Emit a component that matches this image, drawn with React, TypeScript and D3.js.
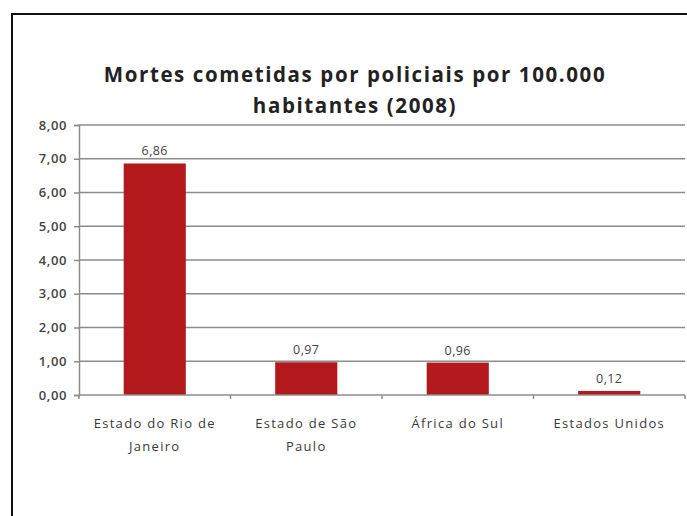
import { useEffect, useRef } from "react";
import * as d3 from "d3";

const categories = [
  ["Estado do Rio de", "Janeiro"],
  ["Estado de São", "Paulo"],
  ["África do Sul"],
  ["Estados Unidos"],
];
const values = [6.86, 0.97, 0.96, 0.12];
const yTicks = [0, 1, 2, 3, 4, 5, 6, 7, 8];
const titleLines = ["Mortes cometidas por policiais por 100.000", "habitantes (2008)"];

const W = 687;
const H = 516;

const fmt = (v: number) => v.toFixed(2).replace(".", ",");

const App = () => {
  const ref = useRef<SVGSVGElement>(null);

  useEffect(() => {
    const svg = d3.select(ref.current);
    svg.selectAll("*").remove();

    const plot = { left: 79, right: 685, top: 125, bottom: 395 };

    const x = d3
      .scaleBand<number>()
      .domain(d3.range(categories.length))
      .range([plot.left, plot.right])
      .paddingInner(0.59)
      .paddingOuter(0.295);
    const bandStep = (plot.right - plot.left) / categories.length;

    const y = d3.scaleLinear().domain([0, 8]).range([plot.bottom, plot.top]);

    // frame
    svg
      .append("path")
      .attr("d", `M12,${H} L12,14 L${W},14`)
      .attr("fill", "none")
      .attr("stroke", "#111")
      .attr("stroke-width", 2);

    // title
    svg
      .append("g")
      .selectAll("text")
      .data(titleLines)
      .enter()
      .append("text")
      .attr("x", 355)
      .attr("y", (_d, i) => 82 + i * 31)
      .attr("text-anchor", "middle")
      .attr("font-family", "'Open Sans', sans-serif")
      .attr("font-weight", "bold")
      .attr("font-size", 20.5)
      .attr("letter-spacing", 1.6)
      .attr("fill", "#222")
      .text((d) => d);

    // gridlines
    svg
      .append("g")
      .selectAll("line")
      .data(yTicks.filter((t) => t > 0))
      .enter()
      .append("line")
      .attr("x1", plot.left)
      .attr("x2", plot.right)
      .attr("y1", (d) => y(d))
      .attr("y2", (d) => y(d))
      .attr("stroke", "#8c8c8c")
      .attr("stroke-width", 1.5);

    // y axis
    const yAxis = svg
      .append("g")
      .attr("transform", `translate(${plot.left},0)`)
      .call(
        d3
          .axisLeft(y)
          .tickValues(yTicks)
          .tickSize(5)
          .tickPadding(7)
          .tickFormat((d) => fmt(d as number))
      );
    yAxis.select(".domain").attr("stroke", "#8c8c8c").attr("stroke-width", 1.5);
    yAxis.selectAll(".tick line").attr("stroke", "#8c8c8c").attr("stroke-width", 1.5);
    yAxis
      .selectAll(".tick text")
      .attr("fill", "#444")
      .attr("font-family", "'Open Sans', sans-serif")
      .attr("font-size", 13)
      .attr("letter-spacing", 0.6)
      .attr("font-weight", 600);

    // bars
    svg
      .append("g")
      .selectAll("rect")
      .data(values)
      .enter()
      .append("rect")
      .attr("x", (_d, i) => x(i)!)
      .attr("width", x.bandwidth())
      .attr("y", (d) => y(d))
      .attr("height", (d) => y(0) - y(d))
      .attr("fill", "#b3181d");

    // value labels
    svg
      .append("g")
      .selectAll("text")
      .data(values)
      .enter()
      .append("text")
      .attr("x", (_d, i) => x(i)! + x.bandwidth() / 2)
      .attr("y", (d) => y(d) - 8)
      .attr("text-anchor", "middle")
      .attr("fill", "#444")
      .attr("font-family", "'Open Sans', sans-serif")
      .attr("font-size", 12.5)
      .attr("letter-spacing", 0.4)
      .text((d) => fmt(d));

    // x axis
    svg
      .append("line")
      .attr("x1", plot.left)
      .attr("x2", plot.right)
      .attr("y1", y(0))
      .attr("y2", y(0))
      .attr("stroke", "#8c8c8c")
      .attr("stroke-width", 1.5);
    svg
      .append("g")
      .selectAll("line")
      .data(d3.range(categories.length + 1))
      .enter()
      .append("line")
      .attr("x1", (i) => plot.left + i * bandStep)
      .attr("x2", (i) => plot.left + i * bandStep)
      .attr("y1", y(0))
      .attr("y2", y(0) + 4)
      .attr("stroke", "#8c8c8c")
      .attr("stroke-width", 1.5);

    // category labels
    const cat = svg
      .append("g")
      .selectAll("text")
      .data(categories)
      .enter()
      .append("text")
      .attr("text-anchor", "middle")
      .attr("fill", "#3a3a3a")
      .attr("font-family", "'Open Sans', sans-serif")
      .attr("font-size", 13)
      .attr("letter-spacing", 1.3);
    cat
      .selectAll("tspan")
      .data((d, i) => d.map((line) => ({ line, i })))
      .enter()
      .append("tspan")
      .attr("x", (d) => x(d.i)! + x.bandwidth() / 2)
      .attr("y", (_d, j) => 428 + j * 23)
      .text((d) => d.line);
  }, []);

  return (
    <svg
      ref={ref}
      width={W}
      height={H}
      style={{ position: "absolute", left: 0, top: 0, background: "#fff" }}
    />
  );
};

export default App;
